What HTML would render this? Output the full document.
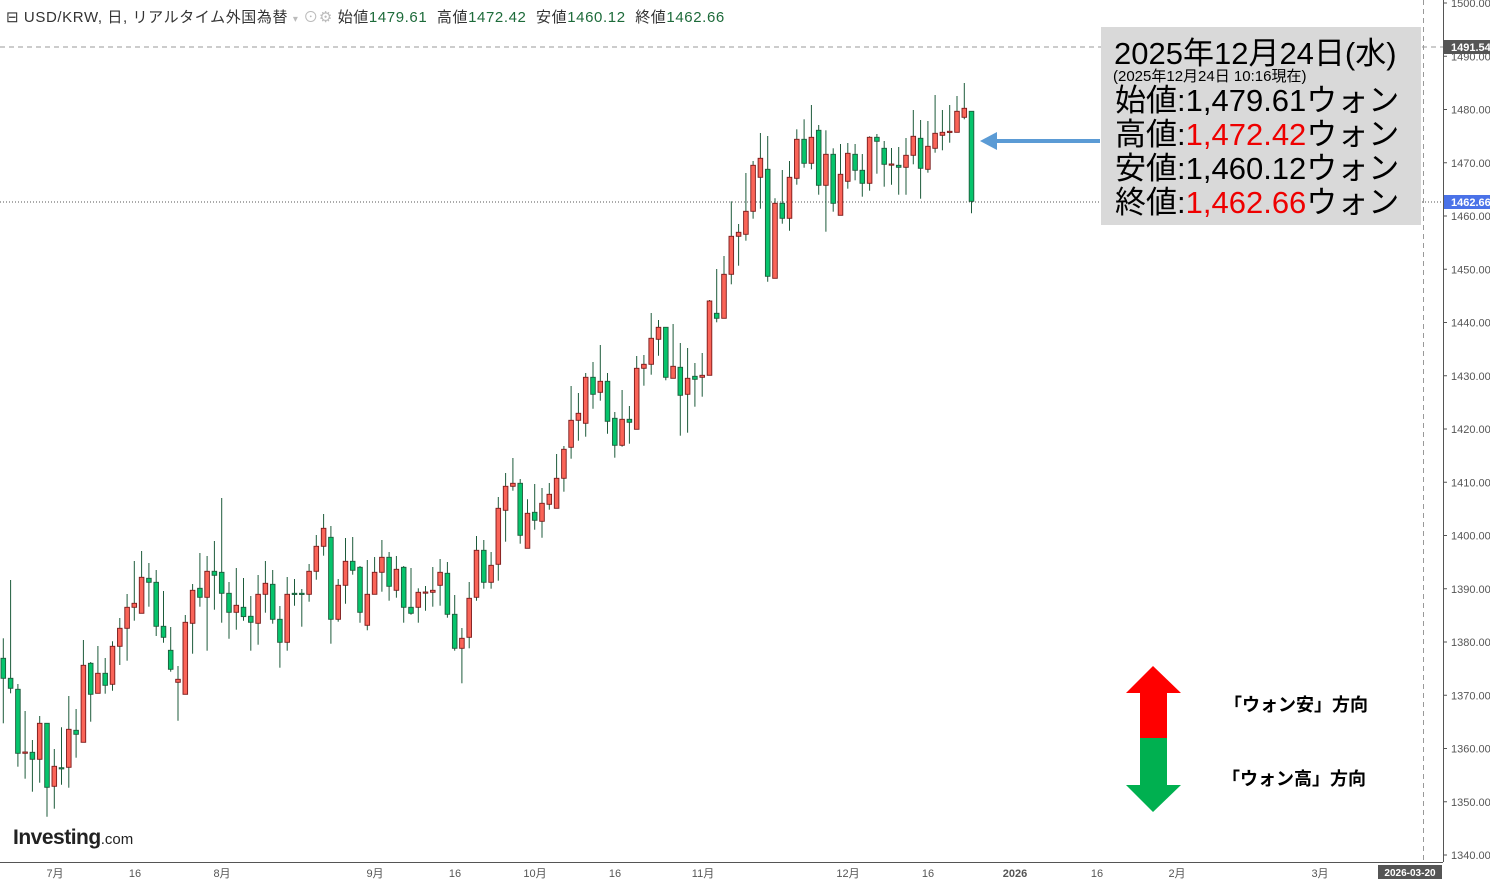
<!DOCTYPE html>
<html><head><meta charset="utf-8"><style>
body{margin:0;width:1490px;height:879px;background:#fff;overflow:hidden;position:relative;font-family:"Liberation Sans","Noto Sans CJK JP",sans-serif}
.a{position:absolute;white-space:nowrap}
</style></head><body>
<svg id="s" width="1490" height="879" style="position:absolute;left:0;top:0">
<line x1="0" y1="47" x2="1443" y2="47" stroke="#999" stroke-dasharray="5,4"/>
<line x1="0" y1="202" x2="1443" y2="202" stroke="#555" stroke-dasharray="1,2"/>
<line x1="1423.5" y1="0" x2="1423.5" y2="862" stroke="#999" stroke-dasharray="5,4"/>
<line x1="1443.5" y1="0" x2="1443.5" y2="862" stroke="#555"/>
<line x1="0" y1="862.5" x2="1443" y2="862.5" stroke="#555"/>
<g id="c"></g>
<g id="yl" font-size="11" fill="#555" font-family="Liberation Sans,sans-serif"></g>
<rect x="1444" y="40" width="46" height="14" fill="#555"/>
<text x="1451" y="51" font-size="11" font-weight="bold" fill="#fff">1491.54</text>
<rect x="1444" y="195" width="46" height="14" fill="#4a72e8"/>
<text x="1451" y="206" font-size="11" font-weight="bold" fill="#fff">1462.66</text>
<g font-size="11" fill="#555" text-anchor="middle" font-family="Liberation Sans,Noto Sans CJK JP,sans-serif">
<text x="55" y="877">7月</text><text x="135" y="877">16</text><text x="222" y="877">8月</text>
<text x="375" y="877">9月</text><text x="455" y="877">16</text><text x="535" y="877">10月</text>
<text x="615" y="877">16</text><text x="703" y="877">11月</text><text x="848" y="877">12月</text>
<text x="928" y="877">16</text><text x="1015" y="877" font-weight="bold">2026</text>
<text x="1097" y="877">16</text><text x="1177" y="877">2月</text><text x="1320" y="877">3月</text>
</g>
<rect x="1378" y="865" width="64" height="14" fill="#555"/>
<text x="1410" y="876" font-size="10" font-weight="bold" fill="#fff" text-anchor="middle">2026-03-20</text>
<rect x="1101" y="27" width="320" height="198" fill="#d9d9d9"/>
<line x1="1100" y1="141" x2="992" y2="141" stroke="#5b9bd5" stroke-width="4"/>
<polygon points="980,141 997,132 997,150" fill="#5b9bd5"/>
<polygon points="1153,666 1181,693 1167,693 1167,738 1140,738 1140,693 1126,693" fill="#ff0000"/>
<polygon points="1140,738 1167,738 1167,785 1181,785 1153,812 1126,785 1140,785" fill="#00b050"/>
</svg>
<div class="a" style="left:6px;top:6px;font-size:15px;letter-spacing:0.6px;color:#333">⊟ USD/KRW, 日, リアルタイム外国為替 <span style="color:#bbb;font-size:10px">▾</span> <span style="color:#bbb">⊙⚙</span> 始値<span style="color:#1d6b3a">1479.61</span>&nbsp; 高値<span style="color:#1d6b3a">1472.42</span>&nbsp; 安値<span style="color:#1d6b3a">1460.12</span>&nbsp; 終値<span style="color:#1d6b3a">1462.66</span></div>
<div class="a" style="left:1114px;top:28px;font-size:31px;color:#000">2025年12月24日(水)</div>
<div class="a" style="left:1113px;top:65px;font-size:15px;color:#000">(2025年12月24日 10:16現在)</div>
<div class="a" style="left:1115px;top:84px;font-size:31px;line-height:34px;color:#000">始値:1,479.61ウォン<br>高値:<span style="color:#e00">1,472.42</span>ウォン<br>安値:1,460.12ウォン<br>終値:<span style="color:#e00">1,462.66</span>ウォン</div>
<div class="a" style="left:1224px;top:691px;font-size:18px;font-weight:bold">「ウォン安」方向</div>
<div class="a" style="left:1222px;top:765px;font-size:18px;font-weight:bold">「ウォン高」方向</div>
<div class="a" style="left:13px;top:826px;font-size:21px;font-weight:bold;color:#222;letter-spacing:-0.5px">Investing<span style="font-size:15px;font-weight:normal;letter-spacing:0">.com</span></div>
<script>
var Z=[[540,[[355,415,295,550,0],[415,445,120,460,0],[448,640,432,680,0],[636,640,513,716,1],[637,658,600,755,0],[550,658,528,728,1],[550,742,550,830,0],[679,739,627,806,1],[683,686,562,734,0],[568,682,468,743,1],[571,583,507,653,0],[376,607,300,607,1],[370,463,366,545,0],[400,460,318,460,1],[400,436,354,461,0],[319,433,304,452,1],[265,319,234,375,1],[202,265,162,362,1],[190,202,63,242,1],[112,220,33,220,1],[115,127,69,200,0],[127,259,90,288,0],[259,292,153,308,0],[331,388,261,395,0],[418,427,378,542,1],[247,463,225,463,1],[151,250,132,341,1],[145,172,39,200,0],[94,172,48,332,1],[94,106,3,209,0],[97,160,-126,248,0],[160,217,126,296,0],[196,217,84,269,1]]],
[490,[[352,380,264,392,0],[379,397,318,482,0],[313,400,255,464,1],[280,313,213,368,1],[283,388,240,401,0],[388,457,348,533,0],[313,457,261,482,1],[310,313,267,347,0],[310,313,297,410,0],[244,313,222,335,1],[169,244,135,269,1],[115,169,72,197,1],[142,388,108,461,0],[286,388,267,395,1],[214,286,144,341,1],[214,241,141,254,0],[232,367,228,398,0],[313,406,210,421,1],[247,313,201,313,1],[202,247,150,305,1],[202,289,186,332,0],[238,301,198,323,1],[232,352,228,398,0],[352,370,234,374,0],[307,352,295,398,1],[306,308,288,362,1],[301,307,231,350,1],[247,286,207,347,1],[250,373,216,383,0],[373,475,315,482,0],[445,475,414,580,1],[325,442,276,475,1],[181,322,138,332,1]]],
[300,[[751,847,720,866,0],[796,847,756,866,1],[625,793,591,842,1],[559,631,519,725,1],[550,559,474,572,1],[550,706,537,731,0],[640,745,598,745,1],[637,661,552,689,0],[610,664,564,713,1],[583,613,549,629,1],[535,625,462,625,1],[448,535,438,575,1],[361,442,258,476,1],[340,361,279,422,1],[232,370,219,410,1],[232,283,186,326,0],[244,277,135,302,1],[244,364,219,401,0],[355,436,336,473,0],[358,436,270,440,1],[358,367,318,431,0],[205,388,168,388,1],[193,205,165,257,1],[115,193,39,224,1],[82,118,60,167,1],[82,232,82,241,0],[199,235,72,235,1],[202,286,129,407,0],[235,283,144,398,1],[229,238,189,320,0],[226,232,159,290,1]]],
[80,[[663,886,660,886,1],[700,715,567,727,0],[583,715,528,715,1],[469,583,364,613,1],[457,469,432,557,1],[394,463,279,482,1],[256,394,243,416,1],[235,292,159,386,1],[268,589,168,605,0],[370,595,355,595,1],[370,415,270,431,0],[292,415,243,452,1],[178,295,148,314,1],[178,250,118,263,0],[172,250,75,268,1],[151,316,135,344,0],[223,316,151,455,1],[223,370,205,395,0],[283,406,192,406,1],[220,304,189,326,1],[223,271,192,301,0],[271,310,222,350,0],[172,310,169,332,1],[172,184,162,281,0],[205,253,183,320,0],[252,254,204,314,1],[256,262,201,344,0],[226,262,174,344,1],[169,226,90,253,1],[175,265,120,356,0],[199,268,123,278,1],[160,205,45,218,1],[157,166,90,211,1],[154,157,75,188,1],[94,157,48,157,1],[85,112,9,118,1],[94,364,94,400,0]]]];
var h='',i=0;
Z.forEach(function(g){var b=g[0];g[1].forEach(function(d){var x=3.3+i*7.28,t=b+d[0]/3,bt=b+d[1]/3,wt=b+d[2]/3,wb=b+d[3]/3;
h+='<line x1="'+x.toFixed(1)+'" x2="'+x.toFixed(1)+'" y1="'+wt.toFixed(1)+'" y2="'+wb.toFixed(1)+'" stroke="#1d5b3b" stroke-width="1"/>';
var hh=Math.max(bt-t,1.2);
h+='<rect x="'+(x-2.3).toFixed(1)+'" y="'+t.toFixed(1)+'" width="4.6" height="'+hh.toFixed(1)+'" fill="'+(d[4]?'#fa6458':'#06c46c')+'" stroke="'+(d[4]?'#7a1a1a':'#1d5b3b')+'" stroke-width="0.9"/>';i++;});});
document.getElementById('c').innerHTML=h;
var y='';for(var k=0;k<=16;k++){var v=1500-k*10,py=3+k*53.25;y+='<line x1="1443" x2="1447" y1="'+py+'" y2="'+py+'" stroke="#555"/><text x="1451" y="'+(py+4)+'">'+v.toFixed(2)+'</text>';}
document.getElementById('yl').innerHTML=y;
</script>
</body></html>
